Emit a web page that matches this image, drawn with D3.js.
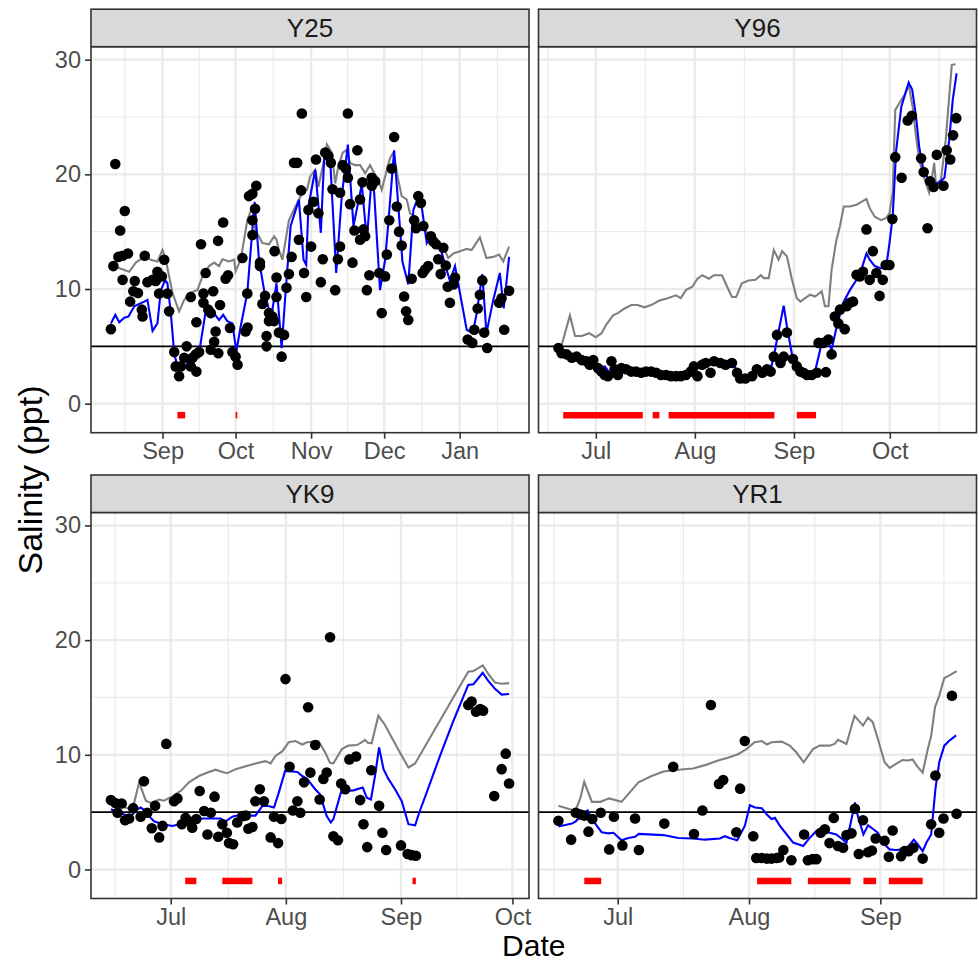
<!DOCTYPE html>
<html>
<head>
<meta charset="utf-8">
<script src="https://cdnjs.cloudflare.com/ajax/libs/d3/7.8.5/d3.min.js"></script>
<style>
  body { margin: 0; background: #ffffff; }
  svg { font-family: "Liberation Sans", Arial, sans-serif; }
</style>
</head>
<body>
<div id="graph"></div>
<script>
// days are counted from the first day of each site's start month
var sites = ["Y25", "Y96", "YK9", "YR1"];
var siteStart = ["2016-08-01", "2016-06-01", "2016-06-01", "2016-06-01"];

var y25Obs = [[9.8,6.5],[10.8,12.0],[11.6,20.9],[12.9,12.8],[13.6,15.1],[14.6,12.9],[14.6,10.8],[15.5,16.8],[16.8,13.1],[17.7,8.9],[19.0,9.8],[19.6,10.7],[20.9,9.65],[22.5,8.2],[22.8,7.6],[23.7,12.9],[24.8,10.6],[26.9,10.8],[28.2,10.7],[28.9,11.5],[29.6,9.6],[30.7,11.1],[31.7,12.55],[33.0,9.6],[33.7,8.05],[35.8,4.5],[36.4,3.25],[37.8,2.4],[38.5,3.25],[39.9,4.0],[40.9,5.0],[42.6,3.25],[42.6,9.3],[43.3,4.0],[44.6,4.3],[44.9,2.8],[44.9,7.1],[46.0,4.5],[46.8,13.9],[47.8,9.6],[47.8,8.8],[48.7,11.4],[49.8,8.2],[50.8,7.9],[50.8,4.7],[51.8,9.8],[52.2,5.4],[52.8,6.3],[53.8,14.2],[53.9,4.4],[54.6,8.6],[55.9,15.8],[56.9,10.9],[57.9,11.2],[58.7,6.6],[59.7,4.5],[61.0,4.1],[61.8,3.4],[63.8,12.7],[65.1,6.3],[65.8,9.6],[65.9,6.65],[66.5,18.1],[67.9,18.3],[67.9,16.0],[67.9,14.7],[69.0,17.0],[69.5,19.0],[71.0,12.3],[71.0,12.0],[72.0,8.7],[73.1,9.4],[73.7,5.9],[73.7,5.0],[74.7,7.9],[74.7,7.2],[76.1,7.6],[76.8,7.2],[77.0,13.3],[77.8,11.0],[77.8,9.3],[78.8,6.2],[79.9,4.1],[80.9,6.0],[81.9,10.1],[82.9,11.3],[84.0,12.8],[85.0,21.0],[86.3,21.0],[87.0,14.3],[87.9,18.6],[88.2,25.3],[89.1,11.4],[90.0,9.3],[90.9,16.9],[92.0,13.7],[93.0,17.6],[94.0,21.3],[95.0,16.6],[96.0,10.6],[96.8,12.6],[97.8,21.9],[99.1,21.6],[100.1,21.0],[100.8,18.7],[101.9,9.9],[103.0,12.6],[103.9,18.4],[103.9,13.7],[105.0,20.8],[106.3,20.5],[107.1,19.7],[107.1,25.3],[108.0,17.4],[109.0,12.3],[109.8,15.1],[111.0,22.1],[112.1,14.3],[112.1,17.8],[113.1,19.3],[113.5,15.2],[114.2,14.6],[114.9,9.9],[115.9,11.2],[116.9,19.7],[116.9,19.0],[118.3,19.4],[120.0,11.4],[121.0,7.9],[122.4,11.1],[123.1,13.0],[124.1,16.0],[125.1,20.5],[126.1,23.25],[127.2,17.2],[128.1,15.0],[129.2,13.8],[130.2,9.35],[131.0,8.05],[131.9,7.3],[133.3,10.9],[134.3,16.0],[135.1,15.3],[136.0,18.1],[137.1,17.5],[137.8,11.4],[138.1,15.5],[138.8,11.7],[140.1,12.0],[141.2,14.6],[142.2,14.15],[143.3,13.9],[144.2,12.6],[145.2,11.3],[146.3,13.6],[147.3,12.05],[148.1,10.2],[149.0,8.8],[150.4,10.4],[151.1,11.0],[156.3,5.6],[158.2,5.3],[159.0,6.45],[160.4,8.3],[161.3,9.5],[162.3,10.75],[163.1,6.2],[164.3,4.85],[169.2,8.8],[170.2,9.2],[171.3,6.45],[173.3,9.85]];
var y25Blue = [[9.8,7.0],[11.6,7.75],[13.2,7.1],[15.3,7.5],[17.0,7.6],[19.4,8.5],[21.4,8.7],[23.5,8.9],[24.8,9.05],[26.9,6.35],[28.9,7.0],[30.3,9.9],[32.1,10.75],[33.0,10.5],[34.4,7.9],[35.8,4.4],[37.1,3.25],[39.9,3.1],[41.9,3.8],[44.0,3.7],[46.0,4.4],[48.7,8.05],[50.8,7.6],[52.6,7.75],[54.2,7.3],[55.9,7.75],[57.6,7.2],[59.7,7.0],[61.3,4.55],[63.1,6.75],[65.8,9.65],[68.8,17.6],[70.6,12.55],[72.7,9.9],[74.7,8.2],[76.1,8.2],[77.8,10.5],[79.9,4.85],[81.5,9.65],[83.6,15.5],[87.0,17.8],[88.9,12.55],[90.0,12.1],[90.9,17.2],[93.7,20.4],[96.0,14.9],[97.4,21.6],[99.8,21.4],[102.3,11.4],[104.6,18.1],[107.1,22.6],[109.4,15.5],[112.8,19.1],[114.9,14.3],[116.9,19.8],[117.9,18.4],[120.3,9.9],[122.4,12.55],[123.7,15.75],[126.1,22.1],[128.5,15.3],[129.5,12.4],[131.9,10.4],[134.0,16.9],[135.6,17.8],[137.4,17.2],[139.5,14.0],[141.5,14.7],[144.9,13.7],[149.0,10.7],[151.1,12.0],[155.9,6.45],[158.4,6.15],[160.0,7.9],[162.3,11.3],[164.0,6.15],[166.8,9.05],[169.5,11.4],[171.1,8.3],[173.3,12.8]];
var y25Grey = [[10.8,12.0],[17.3,11.5],[20.0,12.3],[23.5,12.8],[26.2,12.55],[28.9,12.4],[31.0,13.4],[32.3,12.55],[35.1,9.65],[37.8,8.05],[39.9,9.05],[41.9,9.65],[45.3,9.9],[47.4,11.1],[50.1,12.0],[52.2,12.3],[54.2,12.0],[55.6,12.6],[58.3,12.4],[60.4,12.55],[61.0,11.55],[63.1,12.55],[65.8,16.0],[67.9,17.2],[69.2,15.0],[70.6,14.6],[72.0,14.0],[74.7,13.9],[76.8,14.6],[77.8,14.3],[78.8,13.4],[80.2,12.55],[82.9,16.0],[85.6,17.2],[88.4,18.4],[90.3,18.65],[91.6,19.8],[93.7,20.4],[95.0,18.9],[97.1,21.0],[98.5,22.6],[100.5,21.9],[101.9,19.2],[103.2,20.7],[105.0,21.9],[106.4,22.1],[108.0,21.0],[110.1,20.8],[112.1,20.8],[114.2,20.1],[116.2,20.8],[117.6,20.25],[119.6,19.5],[121.0,18.65],[123.1,20.4],[124.4,21.4],[125.8,21.9],[127.8,19.5],[129.2,18.1],[131.3,17.8],[132.6,16.6],[134.7,16.3],[136.7,15.5],[139.5,15.0],[141.5,14.6],[143.6,14.3],[146.3,13.7],[148.3,12.7],[150.4,13.1],[153.1,13.3],[155.9,13.5],[157.9,13.4],[161.3,14.5],[164.0,12.7],[166.8,12.8],[169.2,13.0],[170.9,12.4],[173.3,13.7]];
var y25Flags = [[37.1,40.3],[61.0,61.7]];

var y96Obs = [[18.3,4.85],[19.3,4.4],[20.9,4.3],[22.5,4.0],[24.0,4.1],[25.6,3.8],[27.1,3.7],[28.1,3.4],[29.2,3.8],[30.7,3.1],[31.8,2.8],[32.8,2.5],[33.8,2.4],[34.9,3.7],[35.9,3.0],[36.9,2.5],[38.0,3.1],[39.5,3.0],[41.1,2.8],[42.6,2.8],[44.2,2.7],[45.7,2.8],[47.3,2.8],[48.9,2.7],[50.4,2.5],[52.0,2.5],[53.5,2.4],[55.1,2.4],[56.6,2.4],[58.2,2.5],[59.7,2.8],[60.7,3.25],[61.8,2.4],[63.3,3.4],[64.4,3.55],[65.9,2.7],[67.0,3.7],[69.0,3.55],[70.6,3.4],[72.6,3.55],[74.2,2.7],[75.2,2.2],[76.8,2.2],[78.9,2.4],[80.4,3.0],[82.1,2.7],[83.6,3.0],[84.7,2.8],[85.7,4.1],[86.7,6.0],[87.8,3.55],[88.8,4.1],[89.8,6.2],[91.7,3.9],[92.9,3.25],[94.0,2.8],[95.0,2.7],[96.1,2.5],[97.6,2.5],[99.2,2.7],[99.7,5.3],[101.2,5.3],[102.0,2.75],[102.8,5.6],[103.8,4.3],[104.8,7.6],[105.9,7.0],[106.4,8.2],[107.9,6.5],[108.5,8.5],[109.5,8.8],[110.5,8.9],[111.6,11.25],[112.6,11.1],[113.6,11.5],[114.7,15.2],[115.7,10.8],[116.7,13.3],[117.8,11.4],[118.8,9.4],[119.8,10.8],[120.7,12.1],[121.9,12.1],[122.8,16.1],[123.7,21.5],[125.7,19.7],[127.6,24.7],[128.9,25.1],[131.8,21.4],[132.6,20.2],[133.8,15.3],[134.6,19.4],[135.7,18.9],[136.7,21.7],[138.8,19.0],[139.8,22.1],[140.9,21.3],[141.8,23.4],[142.8,24.9]];
var y96Blue = [[18.3,4.8],[21.0,4.3],[24.1,4.0],[27.2,3.6],[30.3,3.1],[32.8,3.25],[34.3,2.7],[38.0,2.9],[42.7,2.8],[47.4,2.7],[52.0,2.5],[56.7,2.4],[59.8,2.7],[63.3,3.8],[66.0,3.4],[69.1,3.5],[72.9,3.4],[75.3,2.5],[78.4,2.5],[84.7,3.0],[85.7,4.1],[86.7,5.6],[88.8,8.55],[89.8,6.75],[91.4,4.3],[92.4,3.4],[94.0,2.8],[98.6,2.8],[100.7,5.3],[102.3,5.6],[103.8,4.7],[105.4,6.75],[107.4,8.8],[109.5,9.9],[111.6,10.8],[113.1,11.7],[114.7,13.1],[115.7,12.55],[117.3,12.0],[119.3,11.8],[120.9,12.0],[121.9,14.0],[122.9,16.3],[124.0,22.1],[125.6,25.9],[127.9,28.0],[129.0,27.4],[130.2,25.05],[131.2,22.4],[132.3,20.7],[133.8,19.7],[135.4,19.2],[137.0,19.2],[139.1,19.7],[140.6,23.0],[141.7,26.5],[142.9,28.8]];
var y96Grey = [[19.3,5.1],[21.9,7.7],[23.5,5.9],[25.6,5.9],[27.9,6.15],[30.0,5.8],[31.8,6.15],[33.3,6.9],[35.4,7.7],[36.9,7.9],[39.0,8.3],[41.1,8.6],[43.1,8.6],[45.2,8.4],[47.3,8.6],[49.9,9.0],[52.5,9.2],[55.1,9.45],[56.6,9.2],[58.2,9.9],[60.2,10.2],[61.8,10.9],[63.3,11.2],[65.4,10.9],[67.0,11.2],[69.5,11.2],[71.1,10.2],[72.6,9.3],[73.9,9.3],[75.7,10.5],[77.8,10.75],[80.0,10.8],[81.6,11.2],[82.6,10.95],[84.1,10.95],[85.7,13.4],[87.2,12.55],[88.3,13.3],[89.8,12.85],[91.4,10.8],[92.9,9.2],[94.0,8.9],[95.5,9.2],[97.1,9.5],[98.6,9.35],[100.7,9.8],[101.7,8.5],[102.8,8.5],[103.8,11.7],[105.2,14.15],[106.4,15.5],[107.6,17.2],[109.5,17.2],[111.6,17.35],[113.1,17.6],[114.7,17.85],[115.7,17.05],[117.3,16.3],[119.3,16.0],[120.9,16.2],[121.9,16.6],[122.9,18.4],[123.7,25.6],[125.6,26.5],[126.6,26.9],[127.9,27.8],[129.2,25.8],[130.2,23.3],[131.2,21.3],[132.3,20.1],[133.3,19.2],[134.3,18.4],[135.4,20.1],[135.9,21.0],[136.4,19.2],[138.0,19.5],[139.5,23.0],[140.6,26.8],[141.4,29.55],[142.6,29.6]];
var y96Flags = [[19.8,44.7],[47.8,49.9],[52.8,85.9],[92.9,98.9]];

var yk9Obs = [[13.9,6.05],[15.1,5.8],[15.7,4.95],[16.8,5.75],[17.7,4.3],[18.8,4.45],[19.9,5.35],[21.9,4.6],[22.8,7.7],[23.7,4.95],[24.9,3.6],[25.8,5.55],[26.9,2.8],[27.8,3.8],[28.8,10.95],[30.9,5.95],[31.8,6.2],[33.0,3.95],[34.0,4.5],[34.9,4.2],[35.8,3.65],[36.9,4.4],[37.8,6.85],[39.0,5.1],[39.9,3.05],[40.8,4.95],[41.8,6.35],[42.8,2.85],[43.9,3.95],[45.1,3.2],[45.7,2.3],[46.8,2.2],[47.9,4.1],[49.3,4.65],[50.2,4.7],[50.9,3.55],[52.0,3.7],[52.8,5.95],[54.0,7.0],[55.1,5.95],[56.9,2.8],[57.8,4.6],[58.9,2.3],[59.8,4.4],[60.9,16.6],[62.0,8.95],[62.9,5.15],[64.1,5.95],[64.9,4.95],[65.9,7.6],[67.0,14.15],[67.6,8.45],[68.9,10.85],[70.1,6.1],[71.1,7.9],[72.0,8.45],[72.9,20.25],[73.8,2.9],[75.0,2.55],[75.9,7.5],[77.0,7.0],[78.1,9.6],[79.9,9.85],[81.0,6.05],[81.9,3.95],[82.9,1.95],[84.0,8.65],[86.1,5.55],[87.0,3.2],[88.0,1.7],[92.0,2.1],[93.8,1.35],[94.9,1.25],[96.0,1.2],[110.1,14.35],[111.0,14.65],[112.2,13.75],[113.3,14.0],[114.1,13.85],[117.1,6.4],[119.1,8.75],[120.2,10.1],[121.1,7.5]];
var yk9Blue = [[13.9,5.25],[16.1,4.95],[18.8,4.65],[19.7,4.8],[21.0,5.25],[21.9,5.4],[23.3,5.1],[24.2,4.65],[25.5,4.2],[27.8,3.95],[30.5,3.8],[32.3,3.95],[34.0,4.2],[35.8,4.3],[38.5,4.45],[41.2,4.45],[43.4,4.45],[44.8,4.2],[46.6,4.6],[48.4,4.75],[50.2,4.7],[52.8,4.7],[54.7,5.55],[56.0,5.55],[57.8,5.4],[59.1,6.7],[60.8,8.6],[62.7,8.55],[64.1,8.5],[65.4,8.15],[66.7,7.9],[68.9,7.0],[70.2,6.55],[72.0,4.65],[73.1,4.1],[73.8,4.4],[75.8,6.7],[77.4,6.85],[79.2,6.9],[81.7,7.15],[82.8,6.25],[83.9,6.1],[85.0,8.15],[86.1,10.65],[87.3,8.75],[88.6,7.9],[90.4,7.0],[92.2,5.95],[94.0,3.95],[95.8,3.85],[96.9,4.95],[98.9,6.7],[102.5,9.9],[106.1,12.95],[110.1,16.1],[111.5,16.15],[114.0,17.15],[115.5,16.45],[117.3,15.75],[119.1,15.25],[121.1,15.3]];
var yk9Grey = [[13.9,5.9],[17.8,5.4],[19.7,5.2],[21.5,7.6],[23.3,6.0],[24.6,5.8],[26.9,6.1],[28.2,6.0],[30.5,6.4],[32.7,6.85],[34.9,7.6],[37.6,8.15],[39.9,8.45],[42.1,8.7],[43.9,8.5],[45.2,8.4],[47.5,8.75],[50.2,9.0],[52.8,9.25],[55.5,9.45],[56.9,9.25],[58.2,9.9],[60.0,10.3],[61.8,11.1],[63.6,11.2],[65.4,10.9],[66.7,11.1],[69.8,11.2],[71.6,10.2],[72.9,9.3],[73.8,9.25],[76.1,10.5],[77.8,10.8],[80.1,10.85],[81.5,11.1],[82.3,11.3],[83.1,11.05],[84.1,11.0],[85.9,13.4],[87.7,12.6],[89.5,11.5],[91.7,10.2],[94.0,8.9],[95.8,9.25],[110.1,17.25],[111.5,17.3],[114.0,17.8],[115.5,17.05],[117.3,16.3],[119.1,16.2],[121.1,16.25]];
var yk9Flags = [[33.9,36.9],[43.9,52.0],[58.9,60.0],[95.1,96.0]];

var yr1Obs = [[16.0,4.25],[19.0,2.6],[20.1,4.95],[21.2,4.8],[22.1,4.7],[23.1,3.3],[24.0,4.4],[26.0,4.95],[28.0,1.75],[29.1,4.6],[31.1,2.1],[34.1,4.45],[35.0,1.7],[41.0,4.0],[43.1,8.95],[48.0,3.1],[50.0,5.15],[52.0,14.35],[53.9,7.45],[54.9,7.8],[58.0,3.25],[58.9,7.05],[60.0,11.2],[62.0,2.9],[62.7,1.0],[64.0,1.0],[65.2,0.95],[66.3,0.95],[67.5,1.0],[68.1,1.05],[69.1,1.7],[71.0,0.8],[74.0,3.05],[74.9,0.8],[76.0,0.9],[76.9,0.9],[77.9,3.2],[78.9,3.5],[80.0,2.3],[81.0,4.5],[82.0,2.05],[83.2,1.9],[84.0,3.0],[85.2,3.15],[86.0,5.3],[86.9,1.35],[87.9,4.3],[89.1,1.5],[90.0,1.65],[90.9,2.7],[93.0,2.5],[94.0,1.1],[94.9,3.4],[96.9,1.15],[97.7,1.6],[98.7,1.6],[99.8,1.9],[102.0,0.95],[104.0,3.95],[105.0,8.2],[105.9,3.2],[106.9,4.45],[108.9,15.15],[110.0,4.85]];
var yr1Blue = [[16.0,3.75],[19.2,4.0],[20.1,4.2],[21.2,4.65],[22.9,5.15],[23.9,4.4],[26.2,3.25],[27.8,3.15],[29.0,3.2],[30.9,2.55],[32.5,2.75],[34.1,2.85],[35.0,3.1],[40.8,3.0],[44.3,2.75],[47.8,2.7],[50.6,2.6],[54.1,2.7],[55.3,2.9],[56.4,2.75],[58.2,2.55],[60.0,3.8],[61.2,5.6],[62.4,5.4],[64.0,5.35],[65.2,4.8],[66.3,4.4],[67.1,4.5],[68.3,3.8],[69.9,3.05],[71.4,2.35],[73.8,2.05],[75.3,2.75],[76.9,3.35],[78.5,3.35],[80.0,3.2],[81.6,3.05],[82.8,2.7],[84.0,2.35],[85.2,4.4],[86.0,5.85],[86.7,4.65],[88.0,3.05],[89.1,3.85],[90.2,3.55],[91.4,3.2],[92.6,2.35],[94.2,1.75],[95.7,1.7],[97.3,1.75],[98.7,2.05],[99.9,2.6],[100.8,2.2],[102.0,1.6],[102.9,2.35],[104.0,3.05],[105.0,7.0],[105.9,9.35],[107.1,10.8],[108.2,11.2],[109.9,11.7]];
var yr1Grey = [[16.0,5.55],[20.0,5.1],[21.2,6.25],[22.1,7.65],[23.9,5.9],[25.9,5.9],[28.0,6.2],[30.9,5.9],[34.9,7.6],[38.0,8.15],[40.8,8.55],[44.3,8.7],[47.8,8.8],[50.6,9.1],[53.7,9.5],[56.0,9.75],[58.4,10.05],[60.4,10.5],[62.3,11.1],[64.0,11.2],[65.2,10.9],[66.3,11.1],[68.7,11.15],[70.6,10.8],[72.2,10.2],[73.9,9.35],[76.1,10.5],[77.7,10.8],[80.0,10.8],[81.2,10.95],[82.0,11.3],[83.2,11.1],[84.0,10.95],[85.9,13.4],[87.9,12.55],[89.1,13.25],[90.2,12.85],[91.4,11.4],[93.0,9.35],[94.2,8.85],[95.7,9.2],[97.2,9.55],[98.5,9.5],[99.6,9.6],[100.8,8.95],[102.0,8.45],[103.2,10.5],[104.0,11.65],[104.9,14.15],[105.9,15.15],[107.1,16.7],[108.2,16.9],[110.0,17.3]];
var yr1Flags = [[22.1,26.1],[62.9,71.0],[74.9,85.0],[88.0,91.0],[94.0,102.0]];

var flagLevel = -1;
var refLevel = 5;
var yTicks = [0, 10, 20, 30];
var yMinor = [5, 15, 25];

var siteObs = [y25Obs, y96Obs, yk9Obs, yr1Obs];
var siteBlue = [y25Blue, y96Blue, yk9Blue, yr1Blue];
var siteGrey = [y25Grey, y96Grey, yk9Grey, yr1Grey];
var siteFlags = [y25Flags, y96Flags, yk9Flags, yr1Flags];

var width = 979, height = 962;
var panelW = 438, panelH = 386, stripH = 37.5;
var colX = [91, 538.5], rowY = [46.7, 512.5];

var svg = d3.select("#graph").append("svg")
  .attr("width", width)
  .attr("height", height);

var allVals = [flagLevel];
siteObs.concat(siteBlue, siteGrey).forEach(function(s) {
  s.forEach(function(d) { allVals.push(d[1]); });
});
var yExt = d3.extent(allVals);
var yPad = (yExt[1] - yExt[0]) * 0.05;
var yScale = d3.scaleLinear()
  .domain([yExt[0] - yPad, yExt[1] + yPad])
  .range([panelH, 0]);

function drawPanel(i) {
  var col = i % 2, row = Math.floor(i / 2);
  var start = d3.utcParse("%Y-%m-%d")(siteStart[i]);
  var toDate = function(day) { return new Date(start.getTime() + day * 864e5); };

  var days = [];
  [siteObs[i], siteBlue[i], siteGrey[i]].forEach(function(s) {
    s.forEach(function(d) { days.push(d[0]); });
  });
  siteFlags[i].forEach(function(f) { days.push(f[0], f[1]); });
  var ext = d3.extent(days);
  var pad = (ext[1] - ext[0]) * 0.05;

  var xScale = d3.scaleUtc()
    .domain([toDate(ext[0] - pad), toDate(ext[1] + pad)])
    .range([0, panelW]);

  var g = svg.append("g")
    .attr("transform", "translate(" + [colX[col], rowY[row]] + ")");

  g.append("rect")
    .attr("width", panelW).attr("height", panelH)
    .attr("fill", "#ffffff");

  // month breaks, minor breaks halfway between them
  var majors = xScale.ticks(d3.utcMonth.every(1));
  var ext2 = [d3.utcMonth.offset(majors[0], -1)].concat(majors, [d3.utcMonth.offset(majors[majors.length - 1], 1)]);
  var minors = [];
  for (var k = 0; k < ext2.length - 1; k++) {
    minors.push(new Date((ext2[k].getTime() + ext2[k + 1].getTime()) / 2));
  }
  var dom = xScale.domain();
  minors = minors.filter(function(m) { return m > dom[0] && m < dom[1]; });

  var grid = g.append("g").attr("class", "grid");
  grid.selectAll(".vminor").data(minors).enter().append("line")
    .attr("x1", function(d) { return xScale(d); })
    .attr("x2", function(d) { return xScale(d); })
    .attr("y1", 0).attr("y2", panelH)
    .attr("stroke", "#ebebeb").attr("stroke-width", 1.2);
  grid.selectAll(".hminor").data(yMinor).enter().append("line")
    .attr("x1", 0).attr("x2", panelW)
    .attr("y1", function(d) { return yScale(d); })
    .attr("y2", function(d) { return yScale(d); })
    .attr("stroke", "#ebebeb").attr("stroke-width", 1.2);
  grid.selectAll(".vmajor").data(majors).enter().append("line")
    .attr("x1", function(d) { return xScale(d); })
    .attr("x2", function(d) { return xScale(d); })
    .attr("y1", 0).attr("y2", panelH)
    .attr("stroke", "#ebebeb").attr("stroke-width", 2.4);
  grid.selectAll(".hmajor").data(yTicks).enter().append("line")
    .attr("x1", 0).attr("x2", panelW)
    .attr("y1", function(d) { return yScale(d); })
    .attr("y2", function(d) { return yScale(d); })
    .attr("stroke", "#ebebeb").attr("stroke-width", 2.4);

  g.append("line")
    .attr("x1", 0).attr("x2", panelW)
    .attr("y1", yScale(refLevel)).attr("y2", yScale(refLevel))
    .attr("stroke", "#000000").attr("stroke-width", 1.7);

  var line = d3.line()
    .x(function(d) { return xScale(toDate(d[0])); })
    .y(function(d) { return yScale(d[1]); });

  g.append("path").datum(siteGrey[i])
    .attr("d", line)
    .attr("fill", "none").attr("stroke", "#7f7f7f").attr("stroke-width", 2.1);
  g.append("path").datum(siteBlue[i])
    .attr("d", line)
    .attr("fill", "none").attr("stroke", "#0000ff").attr("stroke-width", 2.1);

  g.selectAll(".pt").data(siteObs[i]).enter().append("circle")
    .attr("cx", function(d) { return xScale(toDate(d[0])); })
    .attr("cy", function(d) { return yScale(d[1]); })
    .attr("r", 5.3)
    .attr("fill", "#000000");

  g.selectAll(".flag").data(siteFlags[i]).enter().append("line")
    .attr("x1", function(d) { return xScale(toDate(d[0])); })
    .attr("x2", function(d) { return xScale(toDate(d[1])); })
    .attr("y1", yScale(flagLevel)).attr("y2", yScale(flagLevel))
    .attr("stroke", "#ff0000").attr("stroke-width", 6.5);

  g.append("rect")
    .attr("width", panelW).attr("height", panelH)
    .attr("fill", "none").attr("stroke", "#333333").attr("stroke-width", 1.6);

  // strip
  g.append("rect")
    .attr("y", -stripH).attr("width", panelW).attr("height", stripH)
    .attr("fill", "#d9d9d9").attr("stroke", "#333333").attr("stroke-width", 1.6);
  g.append("text")
    .attr("x", panelW / 2).attr("y", -stripH / 2)
    .attr("dy", "0.36em")
    .attr("text-anchor", "middle")
    .attr("font-size", 26)
    .attr("fill", "#1a1a1a")
    .text(sites[i]);

  var xAxis = d3.axisBottom(xScale)
    .tickValues(majors)
    .tickFormat(d3.utcFormat("%b"))
    .tickSize(6).tickPadding(4);
  var xg = g.append("g")
    .attr("transform", "translate(0," + panelH + ")")
    .call(xAxis);
  styleAxis(xg);

  if (col === 0) {
    var yAxis = d3.axisLeft(yScale).tickValues(yTicks).tickSize(6).tickPadding(4);
    var yg = g.append("g").call(yAxis);
    styleAxis(yg);
  }
}

function styleAxis(sel) {
  sel.select(".domain").remove();
  sel.selectAll(".tick line").attr("stroke", "#333333").attr("stroke-width", 1.6);
  sel.selectAll(".tick text")
    .attr("font-size", 23.5)
    .attr("fill", "#4d4d4d")
    .attr("font-family", "Liberation Sans, Arial, sans-serif");
}

for (var i = 0; i < sites.length; i++) drawPanel(i);

svg.append("text")
  .attr("x", (colX[0] + colX[1] + panelW) / 2)
  .attr("y", 956)
  .attr("text-anchor", "middle")
  .attr("font-size", 30)
  .attr("fill", "#000000")
  .text("Date");

svg.append("text")
  .attr("transform", "translate(" + [42, 480] + ")rotate(-90)")
  .attr("text-anchor", "middle")
  .attr("font-size", 34)
  .attr("fill", "#000000")
  .text("Salinity (ppt)");
</script>
</body>
</html>
